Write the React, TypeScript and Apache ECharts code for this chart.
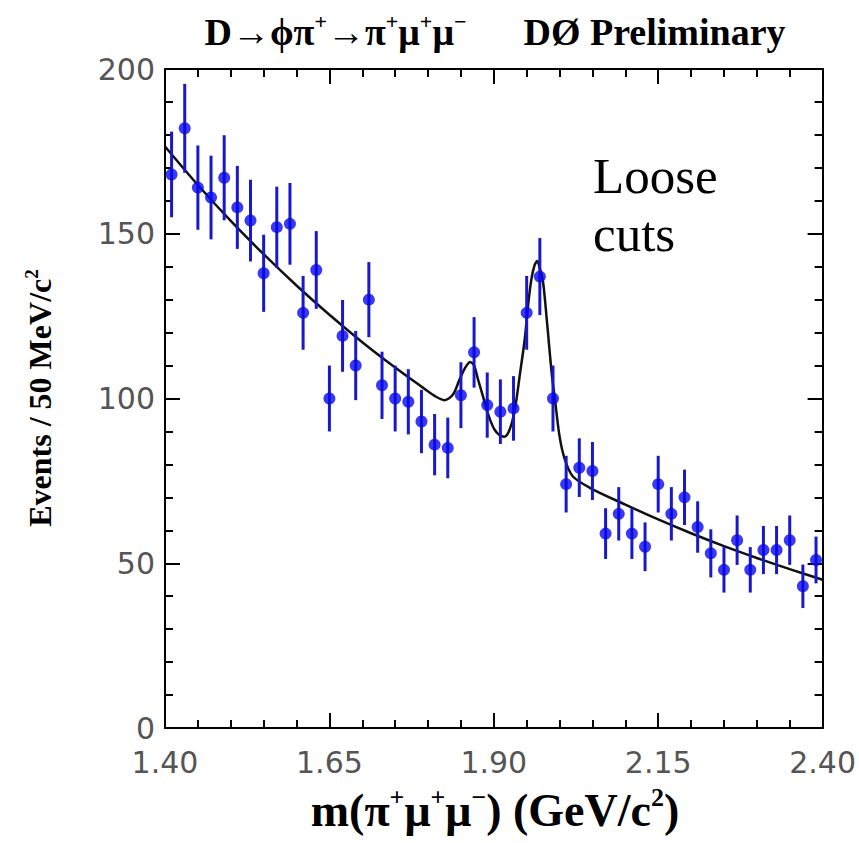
import React, { useEffect, useRef } from "react";
import * as echarts from "echarts";

// Bin centres (GeV/c^2)
const massX = [
  1.41, 1.43, 1.45, 1.47, 1.49, 1.51, 1.53, 1.55, 1.57, 1.59,
  1.61, 1.63, 1.65, 1.67, 1.69, 1.71, 1.73, 1.75, 1.77, 1.79,
  1.81, 1.83, 1.85, 1.87, 1.89, 1.91, 1.93, 1.95, 1.97, 1.99,
  2.01, 2.03, 2.05, 2.07, 2.09, 2.11, 2.13, 2.15, 2.17, 2.19,
  2.21, 2.23, 2.25, 2.27, 2.29, 2.31, 2.33, 2.35, 2.37, 2.39,
];
// Events per bin
const counts = [
  168, 182, 164, 161, 167, 158, 154, 138, 152, 153,
  126, 139, 100, 119, 110, 130, 104, 100, 99, 93,
  86, 85, 101, 114, 98, 96, 97, 126, 137, 100,
  74, 79, 78, 59, 65, 59, 55, 74, 65, 70,
  61, 53, 48, 57, 48, 54, 54, 57, 43, 51,
];
// Statistical errors (half length of the error bars)
const errors = [
  13.0, 13.5, 12.8, 12.7, 12.9, 12.6, 12.4, 11.7, 12.3, 12.4,
  11.2, 11.8, 10.0, 10.9, 10.5, 11.4, 10.2, 10.0, 9.9, 9.6,
  9.3, 9.2, 10.0, 10.7, 9.9, 9.8, 9.8, 11.2, 11.7, 10.0,
  8.6, 8.9, 8.8, 7.7, 8.1, 7.7, 7.4, 8.6, 8.1, 8.4,
  7.8, 7.3, 6.9, 7.5, 6.9, 7.3, 7.3, 7.5, 6.6, 7.1,
];
// Fit curve
const fitMass = [
  1.4, 1.45, 1.5, 1.55, 1.6, 1.65, 1.7, 1.75, 1.79, 1.81,
  1.825, 1.838, 1.848, 1.857, 1.864, 1.87, 1.876, 1.883, 1.889, 1.895,
  1.901, 1.908, 1.916, 1.924, 1.932, 1.94, 1.947, 1.952, 1.957, 1.962,
  1.966, 1.97, 1.975, 1.981, 1.988, 1.993, 2.0, 2.008, 2.02, 2.046,
  2.1, 2.15, 2.2, 2.25, 2.3, 2.35, 2.4,
];
const fitCounts = [
  176.5, 164.8, 153.9, 143.8, 134.3, 125.4, 117.1, 109.4, 103.6, 100.8,
  99.5, 101.2, 105.8, 109.5, 111.1, 110.0, 105.8, 101.0, 96.7, 93.2,
  90.6, 89.0, 88.4, 90.5, 96.7, 107.8, 117.9, 128.0, 136.0, 140.5,
  141.7, 139.5, 135.2, 123.0, 107.8, 99.7, 88.5, 81.5, 76.4, 72.9,
  67.8, 63.3, 59.1, 55.2, 51.6, 48.2, 45.0,
];
const xMin = 1.4;
const xMax = 2.4;
const xStep = 0.25;
const yTickLabels = ["0", "50", "100", "150", "200"];

const BLACK = "#000";
const SERIF = "'Liberation Serif', 'Times New Roman', serif";
const SANS = "'DejaVu Sans', 'Liberation Sans', sans-serif";

export default function App() {
  const ref = useRef<HTMLDivElement>(null);
  useEffect(() => {
    if (!ref.current) return;
    const chart = echarts.init(ref.current, undefined, { renderer: "svg" });

    const pts = massX.map((m, i) => [m - xMin, counts[i]]);
    const bars = massX.map((m, i) => [m - xMin, counts[i] - errors[i], counts[i] + errors[i]]);
    const fit = fitMass.map((m, i) => [m - xMin, fitCounts[i]]);

    const tickCommon = {
      axisLine: { show: true, onZero: false, lineStyle: { color: BLACK, width: 2 } },
      axisTick: { show: true, inside: true, length: 15, lineStyle: { color: BLACK, width: 2 } },
      minorTick: { show: true, splitNumber: 5, length: 8, lineStyle: { color: BLACK, width: 2 } },
      splitLine: { show: false },
      minorSplitLine: { show: false },
    };

    const xBase = {
      type: "value",
      min: 0,
      max: xMax - xMin,
      interval: xStep,
      ...tickCommon,
    };
    const yBase = {
      type: "value",
      min: 0,
      max: 200,
      interval: 50,
      ...tickCommon,
    };

    const sup = (size: number, lh: number) => ({
      fontFamily: SERIF,
      fontWeight: "bold",
      fontSize: size,
      lineHeight: lh,
      verticalAlign: "top",
      fill: BLACK,
      color: BLACK,
    });
    const main = (size: number, lh: number) => ({
      fontFamily: SERIF,
      fontWeight: "bold",
      fontSize: size,
      lineHeight: lh,
      fill: BLACK,
      color: BLACK,
    });

    chart.setOption({
      animation: false,
      backgroundColor: "#fff",
      grid: { left: 165, right: 36, top: 69, bottom: 115, containLabel: false },
      xAxis: [
        {
          ...xBase,
          position: "bottom",
          axisLabel: {
            show: true,
            margin: 19,
            fontFamily: SANS,
            fontSize: 30,
            color: "#555",
            formatter: (v: number) => (v + xMin).toFixed(2),
          },
        },
        {
          ...xBase,
          position: "top",
          axisLabel: { show: false },
        },
      ],
      yAxis: [
        {
          ...yBase,
          position: "left",
          axisLabel: {
            show: true,
            margin: 10,
            fontFamily: SANS,
            fontSize: 30,
            color: "#555",
            formatter: (v: number) => yTickLabels[Math.round(v / 50)] ?? String(v),
          },
        },
        {
          ...yBase,
          position: "right",
          axisLabel: { show: false },
        },
      ],
      series: [
        {
          type: "line",
          name: "fit",
          data: fit,
          xAxisIndex: 0,
          yAxisIndex: 0,
          smooth: 0.3,
          symbol: "none",
          lineStyle: { color: "#111", width: 2.5 },
          z: 2,
        },
        {
          type: "custom",
          name: "errors",
          data: bars,
          xAxisIndex: 0,
          yAxisIndex: 0,
          encode: { x: 0, y: [1, 2] },
          renderItem: (_params: any, api: any) => {
            const x = api.value(0);
            const p1 = api.coord([x, api.value(1)]);
            const p2 = api.coord([x, api.value(2)]);
            return {
              type: "line",
              shape: { x1: p1[0], y1: p1[1], x2: p2[0], y2: p2[1] },
              style: { stroke: "#1818cc", lineWidth: 3 },
            };
          },
          z: 3,
        },
        {
          type: "scatter",
          name: "data",
          data: pts,
          xAxisIndex: 0,
          yAxisIndex: 0,
          symbol: "circle",
          symbolSize: 12,
          itemStyle: { color: "#0808ee" },
          z: 4,
        },
      ],
      graphic: [
        {
          type: "text",
          x: 495,
          y: 32,
          style: {
            text: "{m|D→ϕπ}{s|+}{m|→π}{s|+}{m|μ}{s|+}{m|μ}{s|−}{m|      DØ Preliminary}",
            align: "center",
            verticalAlign: "middle",
            rich: { m: main(38, 44), s: sup(22, 22) },
          },
        },
        {
          type: "text",
          x: 495,
          y: 810,
          style: {
            text: "{m|m(π}{s|+}{m|μ}{s|+}{m|μ}{s|−}{m|) (GeV/c}{s|2}{m|)}",
            align: "center",
            verticalAlign: "middle",
            rich: { m: main(46, 52), s: sup(26, 26) },
          },
        },
        {
          type: "text",
          x: 40,
          y: 398,
          rotation: Math.PI / 2,
          style: {
            text: "{m|Events / 50 MeV/c}{s|2}",
            align: "center",
            verticalAlign: "middle",
            rich: { m: main(32, 36), s: sup(19, 19) },
          },
        },
        {
          type: "text",
          x: 593,
          y: 147,
          style: {
            text: "Loose\ncuts",
            fontFamily: SERIF,
            fontSize: 51,
            lineHeight: 58,
            fill: BLACK,
            align: "left",
            verticalAlign: "top",
          },
        },
      ],
    });
    return () => chart.dispose();
  }, []);
  return (
    <div
      ref={ref}
      style={{ position: "fixed", left: 0, top: 0, width: 859, height: 843, background: "#fff" }}
    />
  );
}
